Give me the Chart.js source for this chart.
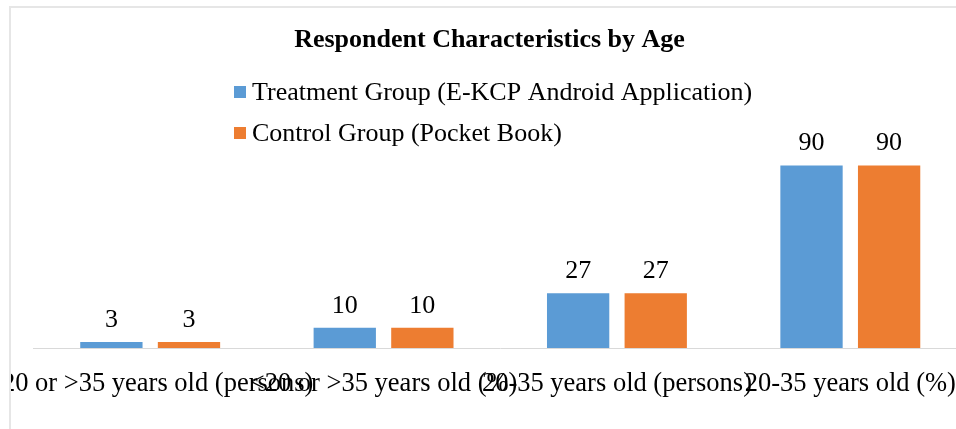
<!DOCTYPE html>
<html><head><meta charset="utf-8">
<script src="https://cdn.jsdelivr.net/npm/chart.js@4"></script>
<style>
html,body{margin:0;padding:0;overflow:hidden;background:#fff;width:956px;height:429px;}
#frame{position:absolute;left:9px;top:6px;width:1000px;height:500px;border-left:2px solid #e6e6e6;border-top:2px solid #e6e6e6;overflow:hidden;}
#c{position:absolute;left:-11px;top:-8px;}
</style></head><body>
<div id="frame"><canvas id="c" width="967" height="429"></canvas></div>
<script>
const chartTitle = 'Respondent Characteristics by Age';
const categories = ['<20 or >35 years old (persons)', '<20 or >35 years old (%)', '20-35 years old (persons)', '20-35 years old (%)'];
const seriesNames = ['Treatment Group (E-KCP Android Application)', 'Control Group (Pocket Book)'];
const treatmentValues = [3, 10, 27, 90];
const controlValues = [3, 10, 27, 90];
const yTicks = [0, 100];

const SERIF = '"Liberation Serif", "Times New Roman", serif';

const stackedLegend = {
  id: 'stackedLegend',
  afterDraw(chart) {
    const ctx = chart.ctx;
    ctx.save();
    ctx.font = '26px ' + SERIF;
    ctx.textBaseline = 'middle';
    ctx.textAlign = 'left';
    chart.data.datasets.forEach((ds, i) => {
      const y = 92 + i * 41;
      ctx.fillStyle = ds.backgroundColor;
      ctx.fillRect(234, y - 6, 12, 12);
      ctx.fillStyle = '#000';
      ctx.fillText(ds.label, 252, y + 1);
    });
    ctx.restore();
  }
};

const valueLabels = {
  id: 'valueLabels',
  afterDatasetsDraw(chart) {
    const ctx = chart.ctx;
    ctx.save();
    ctx.font = '26px ' + SERIF;
    ctx.fillStyle = '#000';
    ctx.textAlign = 'center';
    ctx.textBaseline = 'alphabetic';
    chart.data.datasets.forEach((ds, di) => {
      chart.getDatasetMeta(di).data.forEach((el, i) => {
        ctx.fillText(String(ds.data[i]), el.x, el.y - 15);
      });
    });
    ctx.restore();
  }
};

new Chart(document.getElementById('c'), {
  type: 'bar',
  data: {
    labels: categories,
    datasets: [
      { label: seriesNames[0], data: treatmentValues, backgroundColor: '#5B9BD5' },
      { label: seriesNames[1], data: controlValues, backgroundColor: '#ED7D31' }
    ]
  },
  options: {
    responsive: false,
    animation: false,
    devicePixelRatio: 1,
    categoryPercentage: 0.665,
    barPercentage: 0.803,
    layout: { padding: { left: 12, right: 0, top: 0, bottom: 0 } },
    plugins: {
      legend: { display: false },
      tooltip: { enabled: false },
      title: {
        display: true,
        text: chartTitle,
        color: '#000',
        font: { family: SERIF, size: 26, weight: 'bold', lineHeight: 1.2 },
        padding: { top: 25, bottom: 89 }
      }
    },
    scales: {
      x: {
        offset: true,
        grid: { display: false, drawTicks: false },
        border: { display: true, color: '#d9d9d9', width: 1 },
        ticks: {
          autoSkip: false, maxRotation: 0, minRotation: 0, padding: 20,
          color: '#000', font: { family: SERIF, size: 26.5 }
        },
        afterFit(s) { s.height = 81; s.paddingLeft = 0; s.paddingRight = 0; }
      },
      y: {
        min: yTicks[0], max: yTicks[1],
        grid: { display: false },
        border: { display: false },
        ticks: { display: false },
        afterFit(s) { s.width = 21.5; }
      }
    }
  },
  plugins: [stackedLegend, valueLabels]
});
</script>
</body></html>
